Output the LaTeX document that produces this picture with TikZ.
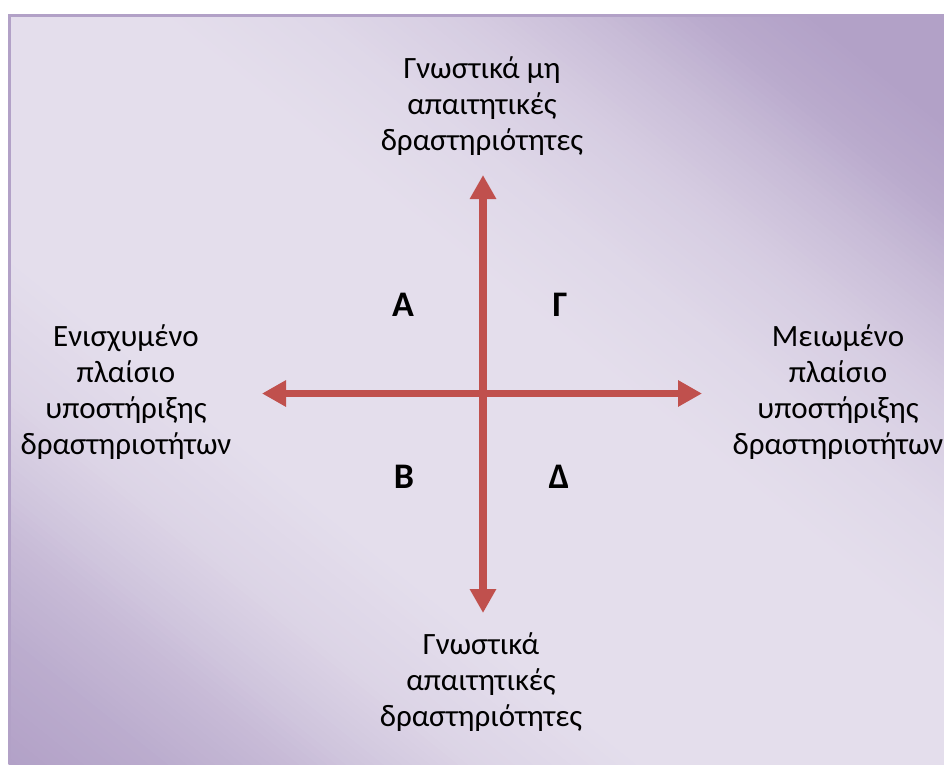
\documentclass[tikz,border=0pt]{standalone}
\usepackage{fontspec}
\setmainfont{Carlito}
\usetikzlibrary{arrows.meta}
\definecolor{dk}{HTML}{B2A1C7}
\definecolor{lt}{HTML}{E4DEEC}
\definecolor{arrowred}{HTML}{C0504D}
\tikzset{
  lbl/.style={align=center, font=\fontsize{31}{36}\selectfont, text=black, inner sep=0pt},
  quad/.style={font=\fontsize{36}{40}\selectfont\bfseries, text=black, inner sep=0pt},
  axis/.style={line width=7.5pt, draw=arrowred, {Triangle[length=24pt,width=25pt]}-{Triangle[length=24pt,width=25pt]}}
}
\begin{document}
\begin{tikzpicture}[x=1pt,y=-1pt]
\useasboundingbox (0,0) rectangle (944,764);
\fill[white] (0,0) rectangle (944,764);
% background gradient: dark at top-right and bottom-left corners, light along the TL-BR diagonal
\begin{scope}[shift={(8,764)}, x={(936pt,0pt)}, y={(0pt,750pt)}]
  \clip (0,0) rectangle (1,1);
  \foreach \i in {0,...,199} {
    \pgfmathsetmacro\tt{(\i+0.5)/200}
    \pgfmathsetmacro\pp{\tt<0.08 ? 100-18*\tt/0.08 : (\tt<0.15 ? 82-24*(\tt-0.08)/0.07 : (\tt<0.19 ? 58-20*(\tt-0.15)/0.04 : (\tt<0.25 ? 38-22*(\tt-0.19)/0.06 : (\tt<0.34 ? 16-16*(\tt-0.25)/0.09 : (\tt<0.58 ? 0 : (\tt<0.66 ? 10*(\tt-0.58)/0.08 : (\tt<0.74 ? 10+18*(\tt-0.66)/0.08 : (\tt<0.81 ? 28+27*(\tt-0.74)/0.07 : (\tt<0.87 ? 55+30*(\tt-0.81)/0.06 : (\tt<0.93 ? 85+15*(\tt-0.87)/0.06 : 100))))))))))}
    \pgfmathsetmacro\sa{2*\i/200}
    \pgfmathsetmacro\sb{2*(\i+1)/200+0.006}
    \fill[fill=dk!\pp!lt] (\sa+1,-1) -- (\sb+1,-1) -- (\sb-2,2) -- (\sa-2,2) -- cycle;
  }
\end{scope}
\draw[dk, line width=3pt] (9.5,764) -- (9.5,15.5) -- (944,15.5);
\coordinate (L) at (262,393.5);
\coordinate (R) at (702,393.5);
\coordinate (T) at (483,175);
\coordinate (B) at (483,613);
\draw[axis] (L) -- (R);
\draw[axis] (T) -- (B);
\node[lbl] (top) at (482,106) {Γνωστικά μη\\απαιτητικές\\δραστηριότητες};
\node[lbl] (bottom) at (481,682) {Γνωστικά\\απαιτητικές\\δραστηριότητες};
\node[lbl] (left) at (126,392) {Ενισχυμένο\\πλαίσιο\\υποστήριξης\\δραστηριοτήτων};
\node[lbl] (right) at (838,392) {Μειωμένο\\πλαίσιο\\υποστήριξης\\δραστηριοτήτων};
\node[quad] (qa) at (403,305) {Α};
\node[quad] (qg) at (560,305) {Γ};
\node[quad] (qb) at (404,477) {Β};
\node[quad] (qd) at (559,477) {Δ};
\end{tikzpicture}
\end{document}
